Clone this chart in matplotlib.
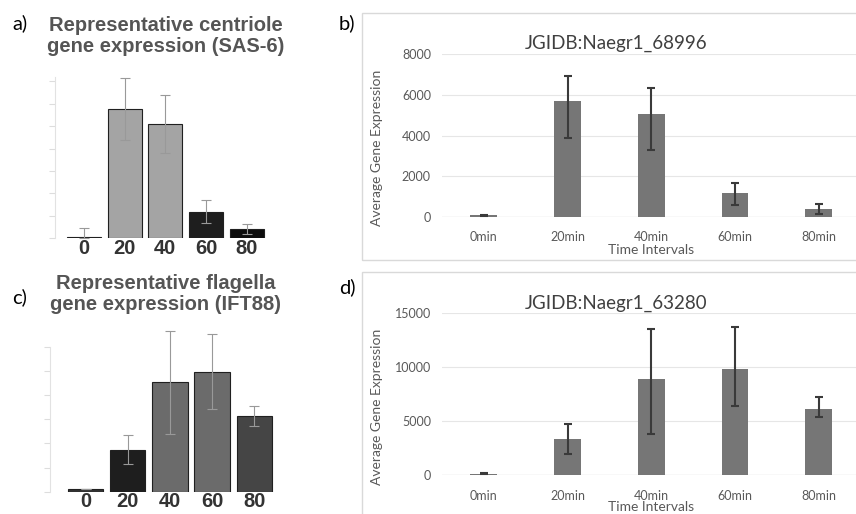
import numpy as np
import matplotlib.pyplot as plt
from matplotlib.patches import Rectangle

W, H = 856, 514

# a) centriole gene (SAS-6), published profile
a_labels = ['0', '20', '40', '60', '80']
a_mean = [74, 5742, 5089, 1172, 400]
a_hi = [450, 7122, 6380, 1706, 623]
a_lo = [0, 4377, 3783, 668, 177]
a_colors = ['#4a4a4a', '#a4a4a4', '#a4a4a4', '#1e1e1e', '#0c0c0c']

# c) flagella gene (IFT88), published profile
c_labels = ['0', '20', '40', '60', '80']
c_mean = [190, 3479, 9041, 9918, 6247]
c_hi = [190, 4712, 13288, 13068, 7068]
c_lo = [190, 2274, 4795, 6849, 5397]
c_colors = ['#333333', '#1e1e1e', '#6b6b6b', '#6b6b6b', '#454545']

# b) / d) our own measurements
time_labels = ['0min', '20min', '40min', '60min', '80min']
b_mean = [60, 5685, 5055, 1163, 378]
b_hi = [90, 6931, 6350, 1670, 640]
b_lo = [30, 3892, 3300, 590, 132]
d_mean = [150, 3364, 8920, 9877, 6173]
d_hi = [200, 4722, 13549, 13735, 7284]
d_lo = [100, 1944, 3827, 6389, 5401]

fig = plt.figure(figsize=(W / 100, H / 100), dpi=100)
fig.patch.set_facecolor('white')

def px_axes(left, top, right, bottom):
    return fig.add_axes([left / W, 1 - bottom / H, (right - left) / W, (bottom - top) / H])

def fx(x):
    return x / W

def fy(y):
    return 1 - y / H

panel_font = 'Lato'
arial = 'Liberation Sans'


def old_panel(ax, labels, mean, hi, lo, colors, ymax, ticks, xlim):
    x = np.arange(len(mean))
    mean = np.array(mean)
    err = [mean - np.array(lo), np.array(hi) - mean]
    ax.bar(x, mean, width=0.835, color=colors, edgecolor='#202020', linewidth=0.8)
    ax.errorbar(x, mean, yerr=err, fmt='none', ecolor='#999999', elinewidth=0.8,
                capsize=3.6, capthick=0.8, clip_on=False)
    ax.set_xlim(*xlim)
    ax.set_ylim(0, ymax)
    ax.set_yticks(ticks)
    ax.set_yticklabels([])
    ax.tick_params(axis='y', direction='out', length=4, color='#dddddd', width=0.8)
    ax.set_xticks(x)
    ax.set_xticklabels(labels, fontfamily=arial, fontweight='bold', fontsize=14.5, color='#333333')
    ax.tick_params(axis='x', length=0, pad=0.5)
    for s in ['top', 'right', 'bottom']:
        ax.spines[s].set_visible(False)
    ax.spines['left'].set_color('#e2e2e2')
    ax.spines['left'].set_linewidth(0.8)
    ax.set_facecolor('none')


def excel_panel(ax, mean, hi, lo, ymax, ticks, title, frame_top, title_y, ylab_y, xlab_y):
    x = np.arange(len(mean))
    mean = np.array(mean)
    err = [mean - np.array(lo), np.array(hi) - mean]
    ax.bar(x, mean, width=0.32, color='#767676', zorder=2)
    ax.errorbar(x, mean, yerr=err, fmt='none', ecolor='#3a3a3a', elinewidth=1.5,
                capsize=3, capthick=1.5, zorder=3)
    ax.set_xlim(-0.5, -0.5 + 414 / 83.7)
    ax.set_ylim(0, ymax)
    ax.set_yticks(ticks)
    ax.set_yticklabels([str(t) for t in ticks], fontfamily=panel_font, fontsize=9, color='#595959')
    ax.yaxis.grid(True, color='#e6e6e6', linewidth=0.8, zorder=0)
    ax.axhline(0, color='#d9d9d9', linewidth=0.9, zorder=1)
    ax.set_xticks(x)
    ax.set_xticklabels(time_labels, fontfamily=panel_font, fontsize=9, color='#595959')
    ax.tick_params(length=0)
    ax.tick_params(axis='y', pad=8)
    ax.tick_params(axis='x', pad=10.5)
    for s in ax.spines.values():
        s.set_visible(False)
    ax.set_facecolor('none')
    fig.patches.append(Rectangle((fx(362), fy(frame_top + 247)), 0.6, 247 / H, transform=fig.transFigure,
                                 fill=False, edgecolor='#d9d9d9', linewidth=1))
    fig.text(fx(616), fy(title_y), title, ha='center', va='center', fontfamily=panel_font,
             fontsize=13.5, color='#404040')
    fig.text(fx(377), fy(ylab_y), 'Average Gene Expression', rotation=90, ha='center', va='center',
             fontfamily=panel_font, fontsize=10, color='#595959')
    fig.text(fx(651), fy(xlab_y), 'Time Intervals', ha='center', va='center',
             fontfamily=panel_font, fontsize=10, color='#595959')


ax_a = px_axes(55, 76.7, 268, 238.3)
old_panel(ax_a, a_labels, a_mean, a_hi, a_lo, a_colors, 7200, np.arange(0, 7001, 1000), (-0.71, 4.52))
ax_c = px_axes(50, 346.7, 276, 491.7)
old_panel(ax_c, c_labels, c_mean, c_hi, c_lo, c_colors, 12000, np.arange(0, 12001, 2000), (-0.85, 4.52))

fig.text(fx(166), fy(36), 'Representative centriole\ngene expression (SAS-6)', ha='center', va='center',
         fontfamily=arial, fontweight='bold', fontsize=14.5, color='#555555', linespacing=1.1)
fig.text(fx(166), fy(294), 'Representative flagella\ngene expression (IFT88)', ha='center', va='center',
         fontfamily=arial, fontweight='bold', fontsize=14.5, color='#555555', linespacing=1.1)

ax_b = px_axes(442, 54.4, 856, 216.7)
excel_panel(ax_b, b_mean, b_hi, b_lo, 8000, [0, 2000, 4000, 6000, 8000], 'JGIDB:Naegr1_68996',
            13, 43, 148, 249.5)
ax_d = px_axes(442, 313.3, 856, 475.3)
excel_panel(ax_d, d_mean, d_hi, d_lo, 15000, [0, 5000, 10000, 15000], 'JGIDB:Naegr1_63280',
            272, 303, 407, 507)

for lab, x, y in [('a)', 20, 23), ('b)', 347, 23), ('c)', 20, 297), ('d)', 347, 287)]:
    fig.text(fx(x), fy(y), lab, ha='center', va='center', fontfamily=panel_font, fontsize=14.5, color='black')

fig.savefig('out.png', dpi=100)
